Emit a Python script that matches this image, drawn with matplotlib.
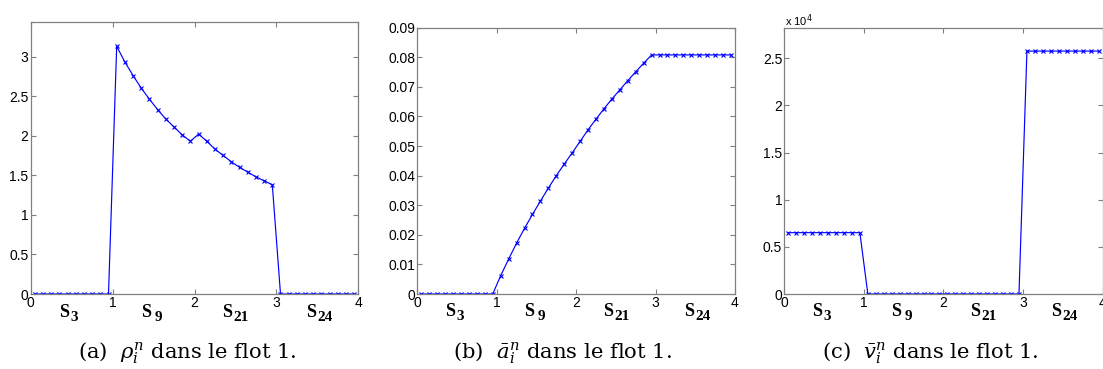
import numpy as np
import matplotlib
matplotlib.use("Agg")
import matplotlib.pyplot as plt
from matplotlib.ticker import FuncFormatter, FixedLocator
import matplotlib.transforms as mtransforms

# ---- data ----
x = np.arange(0.05, 4.0, 0.1)

rho = [0]*10 + [3.13, 2.93, 2.76, 2.60, 2.46, 2.33, 2.21, 2.11, 2.01, 1.93,
                2.02, 1.93, 1.83, 1.75, 1.67, 1.60, 1.54, 1.48, 1.43, 1.38] + [0]*10

abar = [0]*10 + [0.0062, 0.0118, 0.0172, 0.0222, 0.0269, 0.0314, 0.0358, 0.0400, 0.0439, 0.0477,
                 0.0516, 0.0555, 0.0591, 0.0626, 0.0659, 0.0690, 0.0721, 0.0751, 0.0780, 0.0808] + [0.0808]*10

vbar = [6500]*10 + [0]*20 + [25750]*10

xticks = [0, 1, 2, 3, 4]
yticks_a = [0, 0.5, 1, 1.5, 2, 2.5, 3]
yticks_b = [0, 0.01, 0.02, 0.03, 0.04, 0.05, 0.06, 0.07, 0.08, 0.09]
yticks_c = [0, 5000, 10000, 15000, 20000, 25000]

seg_names = ['S', 'S', 'S', 'S']
seg_subs = ['3', '9', '21', '24']
seg_gap = [1.0, 2.5, 1.0, 1.0]
seg_x = [0.47, 1.47, 2.46, 3.48]

captions = [r'(a)  $\rho_i^n$ dans le flot 1.',
            r'(b)  $\bar{a}_i^n$ dans le flot 1.',
            r'(c)  $\bar{v}_i^n$ dans le flot 1.']

fig = plt.figure(figsize=(11.03, 3.69), dpi=100)

H = 369.0
W = 1103.0
def pos(l, r, t, b):
    return [l / W, 1 - b / H, (r - l) / W, (b - t) / H]

ax_a = fig.add_axes(pos(30.7, 358.3, 21.7, 294))
ax_b = fig.add_axes(pos(417.3, 735.0, 27.7, 294))
ax_c = fig.add_axes(pos(784.3, 1102.5, 28.0, 294))

def fmt(v, p):
    s = ('%.2f' % v).rstrip('0').rstrip('.')
    return s

def style(ax, y, ylim, yticks, yfmt):
    ax.plot(x, y, color='#0000ff', lw=0.85, marker='x', ms=3.5, mew=0.8)
    ax.set_xlim(0, 4)
    ax.set_ylim(*ylim)
    ax.xaxis.set_major_locator(FixedLocator(xticks))
    ax.yaxis.set_major_locator(FixedLocator(yticks))
    ax.xaxis.set_major_formatter(FuncFormatter(fmt))
    ax.yaxis.set_major_formatter(FuncFormatter(yfmt))
    for s in ax.spines.values():
        s.set_color('#808080')
        s.set_linewidth(0.9)
    ax.tick_params(which='both', direction='in', top=True, right=True,
                   color='#808080', length=3.5, width=0.8,
                   labelsize=10, labelcolor='black', pad=1.5)
    for lab in ax.get_xticklabels() + ax.get_yticklabels():
        lab.set_family('Liberation Sans')
    trans = mtransforms.blended_transform_factory(ax.transData, ax.transAxes)
    for sx, nm, sb, g in zip(seg_x, seg_names, seg_subs, seg_gap):
        ax.text(sx, -0.083, nm, transform=trans, ha='right', va='baseline',
                fontsize=13, family='Liberation Serif', fontweight='bold')
        off = mtransforms.offset_copy(trans, fig=fig, x=g, y=-3.0, units='points')
        ax.text(sx, -0.083, sb, transform=off, ha='left', va='baseline',
                fontsize=11, family='Liberation Serif', fontweight='bold')

style(ax_a, rho, (0, 3.44), yticks_a, fmt)
style(ax_b, abar, (0, 0.09), yticks_b, fmt)
style(ax_c, vbar, (0, 28200), yticks_c, lambda v, p: fmt(v / 1e4, p))

fig.text(785 / W, 1 - 26 / H, r'x 10$^{4}$', fontsize=8, family='Liberation Sans',
         math_fontfamily='dejavusans', va='baseline', ha='left')

cap_x = [187, 562, 930]
for cx, cap in zip(cap_x, captions):
    fig.text(cx / W, 1 - 359 / H, cap, ha='center', va='baseline', fontsize=15.2,
             family='DejaVu Serif', math_fontfamily='dejavuserif')

fig.savefig('out.png', dpi=100)
